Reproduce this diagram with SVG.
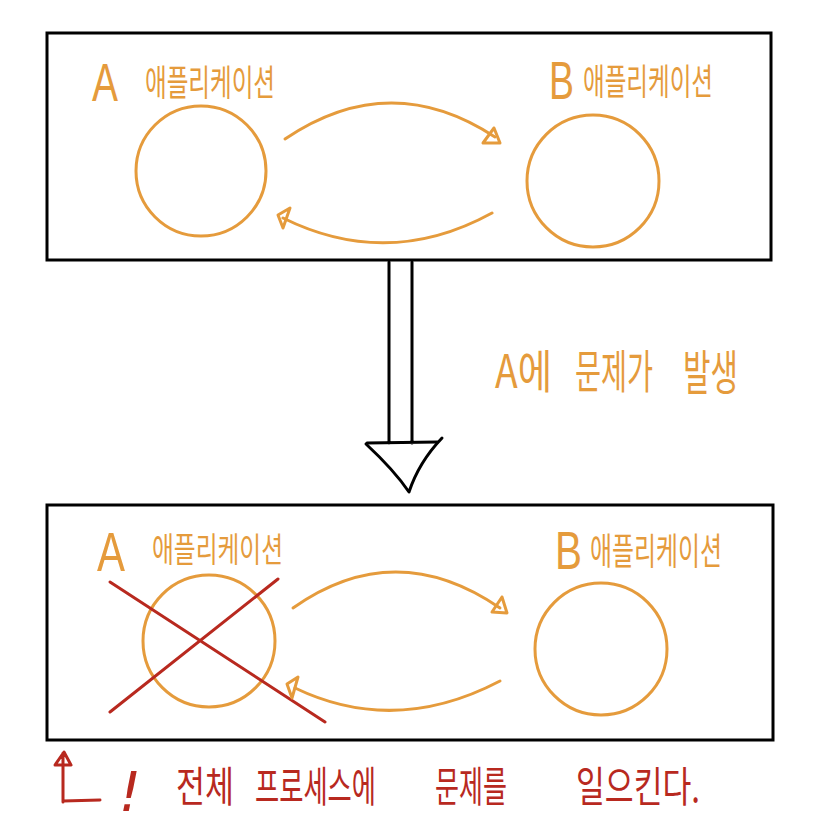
<svg xmlns="http://www.w3.org/2000/svg" width="829" height="828" viewBox="0 0 829 828">
<style>
.box{fill:none;stroke:#000;stroke-width:3}
.node{fill:none;stroke:#E59B3C;stroke-width:3}
.conn{fill:none;stroke:#E59B3C;stroke-width:3;stroke-linecap:round;stroke-linejoin:round}
.blk{fill:none;stroke:#000;stroke-width:3;stroke-linecap:round;stroke-linejoin:round}
.red{fill:none;stroke:#B8291F;stroke-width:3;stroke-linecap:round;stroke-linejoin:round}
.lat{font-family:"Liberation Sans",sans-serif;fill:#E59B3C}
.ko{font-family:"Noto Sans CJK KR",sans-serif;fill:#E59B3C}
.kor{font-family:"Noto Sans CJK KR",sans-serif;fill:#B8291F}
</style>
<rect width="829" height="828" fill="#fff"/>
<g id="box-top"><rect class="box" x="47" y="33" width="724" height="227"/></g>
<g id="box-bottom"><rect class="box" x="47" y="505" width="726" height="235"/></g>

<g id="top-appA">
<text class="lat" x="92" y="101" font-size="54" textLength="26" lengthAdjust="spacingAndGlyphs">A</text>
<text class="ko" transform="translate(145,96) scale(1,1.7)" font-size="21.7" textLength="130" lengthAdjust="spacingAndGlyphs">애플리케이션</text>
<circle class="node" cx="201" cy="171" r="65"/>
</g>
<g id="top-appB">
<text class="lat" x="549" y="99" font-size="54" textLength="25" lengthAdjust="spacingAndGlyphs">B</text>
<text class="ko" transform="translate(583,95) scale(1,1.7)" font-size="21.7" textLength="130" lengthAdjust="spacingAndGlyphs">애플리케이션</text>
<circle class="node" cx="593" cy="181" r="66"/>
</g>

<g id="bottom-appA">
<text class="lat" x="97" y="571" font-size="56" textLength="28" lengthAdjust="spacingAndGlyphs">A</text>
<text class="ko" transform="translate(152,562) scale(1,1.56)" font-size="21.8" textLength="131" lengthAdjust="spacingAndGlyphs">애플리케이션</text>
<circle class="node" cx="209" cy="641" r="66"/>
<path class="red" d="M110,582 L325,722 M278,579 L110,712"/>
</g>
<g id="bottom-appB">
<text class="lat" x="555" y="569" font-size="54" textLength="27" lengthAdjust="spacingAndGlyphs">B</text>
<text class="ko" transform="translate(590,565) scale(1,1.68)" font-size="22" textLength="132" lengthAdjust="spacingAndGlyphs">애플리케이션</text>
<circle class="node" cx="601" cy="649" r="66"/>
</g>

<g id="connectors">
<path class="conn" d="M285,139 Q390,68 495,137"/>
<path class="conn" d="M483,143 L500,143 L494,128 Z"/>
<path class="conn" d="M492,213 Q388,270 283,218"/>
<path class="conn" d="M278,215 L290,208 L283,228 Z"/>
<path class="conn" d="M293,608 Q395,536 500,608"/>
<path class="conn" d="M492,612 L507,613 L502,597 Z"/>
<path class="conn" d="M500,681 Q395,736 295,688"/>
<path class="conn" d="M287,684 L298,677 L292,698 Z"/>
<g id="down-arrow">
<path class="blk" d="M389,262 V443 M412,262 V443 M367,443 L437,442"/>
<path class="blk" d="M366,444 Q394,470 409,492 Q419,462 442,438"/>
</g>
</g>

<g id="label-problem">
<text class="ko" transform="translate(495,388) scale(1,1.29)" font-size="35.6" textLength="57" lengthAdjust="spacingAndGlyphs">A에</text>
<text class="ko" transform="translate(575,388) scale(1,1.77)" font-size="26" textLength="78" lengthAdjust="spacingAndGlyphs">문제가</text>
<text class="ko" transform="translate(683,390) scale(1,1.75)" font-size="27.5" textLength="55" lengthAdjust="spacingAndGlyphs">발생</text>
</g>

<g id="note">
<path class="red" d="M63,802 V753 M55,765 L64,752 L71,765 Z M63,801 L100,800"/>
<text x="130" y="811" font-size="56" font-style="italic" text-anchor="middle" font-family="DejaVu Sans,sans-serif" font-weight="200" fill="#B8291F">!</text>
<text class="kor" transform="translate(176,802) scale(1,1.45)" font-size="29" textLength="58" lengthAdjust="spacingAndGlyphs">전체</text>
<text class="kor" transform="translate(255,802) scale(1,1.74)" font-size="24.2" textLength="121" lengthAdjust="spacingAndGlyphs">프로세스에</text>
<text class="kor" transform="translate(435,802) scale(1,1.75)" font-size="24" textLength="72" lengthAdjust="spacingAndGlyphs">문제를</text>
<text class="kor" transform="translate(576,802) scale(1,1.46)" font-size="28.8" textLength="124" lengthAdjust="spacingAndGlyphs">일으킨다.</text>
</g>
</svg>
